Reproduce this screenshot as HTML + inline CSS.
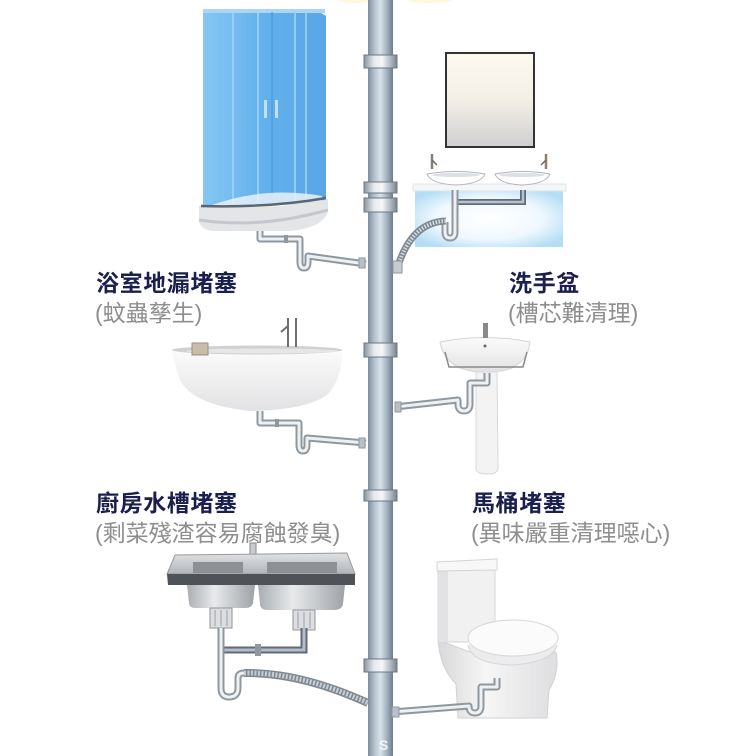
<!DOCTYPE html>
<html><head><meta charset="utf-8">
<style>
html,body{margin:0;padding:0;background:#fff;}
svg{display:block}
.t{font-family:"Liberation Sans","Noto Sans CJK TC",sans-serif;font-weight:bold;font-size:23px;fill:#1b1f4e;letter-spacing:0.6px}
.s{font-family:"Liberation Sans","Noto Sans CJK TC",sans-serif;font-size:23px;fill:#8e8e8e}
.po{fill:none;stroke:#8f979f;stroke-width:7;stroke-linejoin:round}
.pi{fill:none;stroke:#eef0f2;stroke-width:3;stroke-linejoin:round}
</style></head><body>
<svg width="756" height="756" viewBox="0 0 756 756" xmlns="http://www.w3.org/2000/svg">
<defs>
<linearGradient id="pipe" x1="0" x2="1" y1="0" y2="0">
 <stop offset="0" stop-color="#7d8d9d"/>
 <stop offset="0.25" stop-color="#b3c1ce"/>
 <stop offset="0.5" stop-color="#d9e2ea"/>
 <stop offset="0.75" stop-color="#a4b3c2"/>
 <stop offset="1" stop-color="#6c7c8c"/>
</linearGradient>
<linearGradient id="col" x1="0" x2="1">
 <stop offset="0" stop-color="#8a949e"/>
 <stop offset="0.3" stop-color="#e4e9ee"/>
 <stop offset="0.55" stop-color="#f6f8fa"/>
 <stop offset="0.8" stop-color="#b0bac4"/>
 <stop offset="1" stop-color="#7a848e"/>
</linearGradient>
<linearGradient id="glass" x1="0" x2="1">
 <stop offset="0" stop-color="#86c6f3"/>
 <stop offset="0.25" stop-color="#74bcf0"/>
 <stop offset="0.5" stop-color="#62b0ec"/>
 <stop offset="1" stop-color="#5aa6e6"/>
</linearGradient>
<linearGradient id="mirror" x1="0" y1="0" x2="0" y2="1">
 <stop offset="0" stop-color="#fcf9ef"/>
 <stop offset="0.5" stop-color="#f3efe6"/>
 <stop offset="1" stop-color="#cfcfd1"/>
</linearGradient>
<radialGradient id="cab" cx="0.5" cy="0.5" r="0.6">
 <stop offset="0" stop-color="#ffffff"/>
 <stop offset="0.6" stop-color="#f0f8fe"/>
 <stop offset="1" stop-color="#b5def6"/>
</radialGradient>
<linearGradient id="bowl" x1="0" y1="0" x2="0" y2="1">
 <stop offset="0" stop-color="#fbfbfb"/>
 <stop offset="1" stop-color="#e2e2e4"/>
</linearGradient>
<linearGradient id="steel" x1="0" y1="0" x2="0" y2="1">
 <stop offset="0" stop-color="#e0e2e4"/>
 <stop offset="1" stop-color="#b0b4b8"/>
</linearGradient>
<linearGradient id="sbowl" x1="0" x2="1">
 <stop offset="0" stop-color="#a9adb1"/>
 <stop offset="0.4" stop-color="#e8eaec"/>
 <stop offset="1" stop-color="#9ea2a6"/>
</linearGradient>
<linearGradient id="toil" x1="0" x2="1">
 <stop offset="0" stop-color="#d8d8da"/>
 <stop offset="0.4" stop-color="#f6f6f6"/>
 <stop offset="1" stop-color="#dedee0"/>
</linearGradient>
</defs>

<rect width="756" height="756" fill="#fff"/>

<!-- top glow -->
<ellipse cx="355" cy="0" rx="16" ry="3" fill="#fbf2cc" opacity="0.6"/>
<ellipse cx="430" cy="0" rx="22" ry="3" fill="#fbf2cc" opacity="0.6"/>

<!-- main pipe -->
<rect x="368" y="0" width="25" height="756" fill="url(#pipe)"/>
<g fill="url(#col)" stroke="#6d7781" stroke-width="1">
 <rect x="364" y="55" width="33" height="13"/>
 <rect x="364" y="182" width="33" height="11"/>
 <rect x="364" y="198" width="33" height="14"/>
 <rect x="364" y="343" width="33" height="14"/>
 <rect x="364" y="490" width="33" height="11"/>
 <rect x="364" y="659" width="33" height="13"/>
</g>
<text x="379" y="750" font-family="Liberation Sans, sans-serif" font-weight="bold" font-size="14" fill="#fff" opacity="0.8">S</text>

<!-- shower -->
<path d="M203,11 L300,9 Q318,10 326,16 L326,205 L203,205 Z" fill="url(#glass)"/>
<rect x="203" y="9" width="122" height="4" fill="#a9d6f6"/>
<g stroke="#a6d4f6" stroke-width="1.5">
 <line x1="233" y1="12" x2="233" y2="203"/>
 <line x1="258" y1="12" x2="258" y2="203"/>
 <line x1="295" y1="12" x2="295" y2="203"/>
 <line x1="306" y1="12" x2="306" y2="203"/>
</g>
<line x1="272" y1="12" x2="272" y2="203" stroke="#4e98d6" stroke-width="1.2"/>
<rect x="264" y="100" width="3" height="18" fill="#bfe0f8"/>
<rect x="275" y="100" width="3" height="18" fill="#bfe0f8"/>
<path d="M212,205 Q265,186 322,196 L322,205 Z" fill="#e8f1f8" opacity="0.85"/>
<path d="M199,206 L199,221 Q201,231 215,231 L290,231 Q322,228 328,212 L328,199 Q300,206 260,207 Z" fill="#e3e5e7"/>
<path d="M199,220 Q260,229 328,210" stroke="#c4c8cc" stroke-width="3" fill="none"/>
<path d="M201,206 Q270,208 326,198" stroke="#5d6670" stroke-width="2.5" fill="none"/>
<path class="po" d="M260,231 V239 H300 V262 Q300,268 304,268 Q308,268 308,262 V256 L366,264"/>
<path class="pi" d="M260,231 V239 H300 V262 Q300,268 304,268 Q308,268 308,262 V256 L366,264"/>
<rect x="284" y="235" width="4" height="8" fill="#8f979f"/>
<rect x="359" y="258" width="6" height="10" fill="#b9c0c7" stroke="#8f979f"/>

<!-- mirror -->
<rect x="446" y="53" width="88" height="94" fill="url(#mirror)" stroke="#333" stroke-width="2"/>

<!-- vanity -->
<rect x="415" y="190" width="148" height="57" fill="url(#cab)"/>
<rect x="413" y="184" width="153" height="7" fill="#f4f6f8" stroke="#e0e4e8"/>
<path d="M427,174 Q456,169 485,174 Q481,184 456,185 Q431,184 427,174 Z" fill="#fff" stroke="#b0b4ba"/>
<path d="M495,174 Q522,169 550,174 Q546,184 522,185 Q499,184 495,174 Z" fill="#fff" stroke="#b0b4ba"/>
<ellipse cx="456" cy="175" rx="24" ry="2" fill="#dcdfe3"/>
<ellipse cx="522" cy="175" rx="23" ry="2" fill="#dcdfe3"/>
<g stroke="#8a7f70" stroke-width="2.5">
 <line x1="432" y1="154" x2="432" y2="169"/>
 <line x1="546" y1="154" x2="546" y2="169"/>
</g>
<g stroke="#6a6a6a" stroke-width="1.5">
 <line x1="432" y1="160" x2="437" y2="165"/>
 <line x1="546" y1="160" x2="541" y2="165"/>
</g>
<path d="M523,190 V202 H455" fill="none" stroke="#5f6b77" stroke-width="6"/>
<path d="M523,190 V202 H455" fill="none" stroke="#b8c2cc" stroke-width="2.5"/>
<path class="po" d="M455,190 V232 Q455,238 450,238 Q445,238 445,232 V222"/>
<path class="pi" d="M455,190 V232 Q455,238 450,238 Q445,238 445,232 V222"/>
<path d="M446,221 Q412,222 398,266" fill="none" stroke="#7e8892" stroke-width="7"/>
<path d="M446,221 Q412,222 398,266" fill="none" stroke="#d4dae0" stroke-width="4" stroke-dasharray="1.5 1.5"/>
<rect x="393" y="261" width="9" height="12" fill="#c4cbd2" stroke="#8f979f"/>

<!-- bath basin -->
<path d="M172,351 Q174,364 180,380 Q193,405 250,411 Q312,410 330,392 Q342,376 342,352 Z" fill="url(#bowl)"/>
<ellipse cx="257" cy="350" rx="85" ry="4.5" fill="#cfd0d2"/>
<ellipse cx="262" cy="351" rx="76" ry="2.5" fill="#e6e6e8"/>
<rect x="192" y="343" width="16" height="12" fill="#c8bca8" stroke="#9a8f80"/>
<g stroke="#6f6f6f" stroke-width="2">
 <line x1="288" y1="318" x2="288" y2="347"/>
 <line x1="296" y1="318" x2="296" y2="347"/>
 <line x1="288" y1="326" x2="281" y2="332"/>
</g>
<path class="po" d="M260,411 V423 H299 V445 Q299,451 303,451 Q307,451 307,445 V438 L366,443"/>
<path class="pi" d="M260,411 V423 H299 V445 Q299,451 303,451 Q307,451 307,445 V438 L366,443"/>
<rect x="275" y="419" width="4" height="8" fill="#8f979f"/>
<rect x="359" y="438" width="6" height="10" fill="#b9c0c7" stroke="#8f979f"/>

<!-- pedestal sink -->
<path d="M440,342 Q485,333 530,342 Q528,360 512,368 Q486,377 460,368 Q443,360 440,342 Z" fill="url(#bowl)" stroke="#d4d4d4"/>
<path d="M445,352 L449,367 L523,367 L527,352" stroke="#8a8a8a" stroke-width="1.5" fill="none"/>
<path d="M476,372 L497,372 L498,468 Q498,474 487,474 Q476,474 476,468 Z" fill="#f3f3f3" stroke="#d8d8d8"/>
<rect x="483" y="323" width="5" height="15" fill="#8a8a8a"/>
<circle cx="485" cy="346" r="1.5" fill="#666"/>
<path class="po" d="M487,373 V383 H470 V404 Q470,411 464,411 Q458,411 458,404 V400 L395,407"/>
<path class="pi" d="M487,373 V383 H470 V404 Q470,411 464,411 Q458,411 458,404 V400 L395,407"/>
<rect x="395" y="402" width="6" height="10" fill="#b9c0c7" stroke="#8f979f"/>

<!-- kitchen sink -->
<rect x="250" y="543" width="6" height="22" fill="#c8cacc" stroke="#888"/>
<polygon points="175,555 347,553 355,574 167,574" fill="url(#steel)" stroke="#999"/>
<rect x="193" y="562" width="50" height="11" fill="#8d9196"/>
<rect x="267" y="562" width="70" height="11" fill="#8d9196"/>
<polygon points="167,574 355,574 355,585 168,585" fill="#4f5256"/>
<path d="M187,585 L255,585 L253,603 Q252,608 245,608 L196,608 Q189,608 189,603 Z" fill="url(#sbowl)"/>
<path d="M258,585 L345,585 L343,604 Q342,610 334,610 L268,610 Q260,610 260,604 Z" fill="url(#sbowl)"/>
<g fill="#dcdee0" stroke="#8f959b" stroke-width="1">
 <rect x="210" y="608" width="22" height="20"/>
 <rect x="293" y="610" width="22" height="20"/>
</g>
<g stroke="#9aa0a6" stroke-width="1">
 <line x1="215" y1="610" x2="215" y2="626"/><line x1="221" y1="610" x2="221" y2="626"/><line x1="227" y1="610" x2="227" y2="626"/>
 <line x1="298" y1="612" x2="298" y2="628"/><line x1="304" y1="612" x2="304" y2="628"/><line x1="310" y1="612" x2="310" y2="628"/>
</g>
<path d="M221,650 H304 V628" fill="none" stroke="#5f6b77" stroke-width="7"/>
<path d="M221,650 H304 V628" fill="none" stroke="#b4bec8" stroke-width="3"/>
<rect x="255" y="644" width="6" height="12" fill="#8f979f"/>
<path class="po" d="M221,628 V688 Q221,697 229,697 Q238,697 238,688 V678 Q238,673 244,673"/>
<path class="pi" d="M221,628 V688 Q221,697 229,697 Q238,697 238,688 V678 Q238,673 244,673"/>
<path d="M244,673 Q300,672 368,703" fill="none" stroke="#7f8790" stroke-width="8"/>
<path d="M244,673 Q300,672 368,703" fill="none" stroke="#c8ced4" stroke-width="5" stroke-dasharray="2 1.5"/>

<!-- toilet -->
<path d="M438,640 Q440,668 456,684 L458,718 L547,718 L549,690 Q560,672 556,652 L470,652 Z" fill="url(#toil)" stroke="#d2d2d4"/>
<rect x="438" y="570" width="57" height="72" fill="#f1f1f1" stroke="#d6d6d8"/>
<rect x="438" y="570" width="10" height="72" fill="#e2e2e4"/>
<path d="M437,562 L497,559 L497,570 L437,571 Z" fill="#f8f8f8" stroke="#d4d4d6"/>
<path d="M468,645 Q472,664 512,665 Q553,662 557,645" fill="#ececee" stroke="#d6d6d8"/>
<ellipse cx="513" cy="638" rx="45" ry="18" fill="#fbfbfb" stroke="#d8d8da"/>
<path class="po" d="M497,678 V687 H481 V706 Q481,713 475,713 Q469,713 469,706 L392,712"/>
<path class="pi" d="M497,678 V687 H481 V706 Q481,713 475,713 Q469,713 469,706 L392,712"/>
<rect x="392" y="707" width="7" height="10" fill="#b9c0c7" stroke="#8f979f"/>

<!-- labels -->
<text class="t" x="96" y="291">浴室地漏堵塞</text>
<text class="s" x="95" y="321">(蚊蟲孳生)</text>
<text class="t" x="509" y="291">洗手盆</text>
<text class="s" x="508" y="321">(槽芯難清理)</text>
<text class="t" x="96" y="511">廚房水槽堵塞</text>
<text class="s" x="95" y="541">(剩菜殘渣容易腐蝕發臭)</text>
<text class="t" x="472" y="511">馬桶堵塞</text>
<text class="s" x="471" y="541">(異味嚴重清理噁心)</text>
</svg>
</body></html>
